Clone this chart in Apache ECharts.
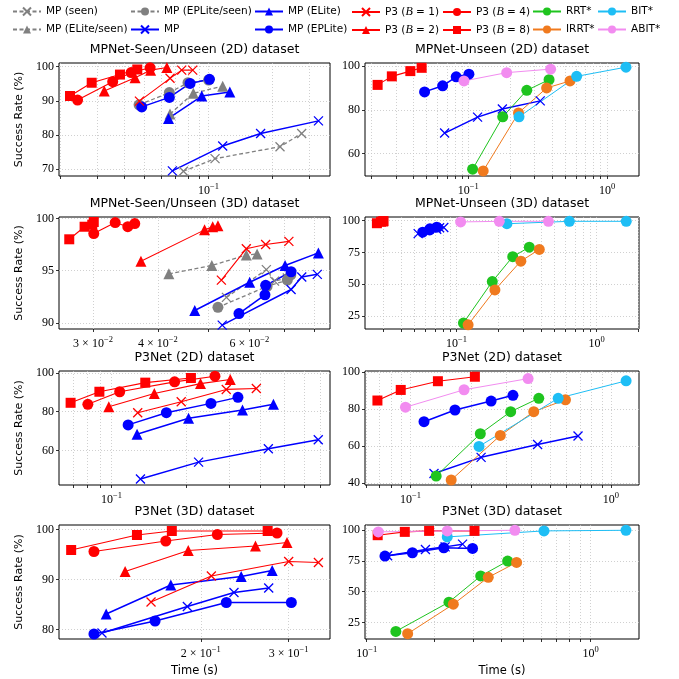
<!DOCTYPE html>
<html><head><meta charset="utf-8">
<script src="https://cdn.jsdelivr.net/npm/echarts@6/dist/echarts.min.js"></script>
<style>html,body{margin:0;padding:0;background:#fff}#c{width:679px;height:679px}</style>
</head><body><div id="c"></div>
<script>
// ---------- DATA (time in s, success rate in %) ----------
// Panel A: MPNet-Seen/Unseen (2D)
const A_mpSeen_t=[0.0761,0.1073,0.2173,0.275], A_mpSeen_r=[69.3,73.0,76.5,80.4];
const A_eliteSeen_t=[0.0658,0.0848,0.1166], A_eliteSeen_r=[86.1,92.2,94.3];
const A_epliteSeen_t=[0.047,0.0653,0.080,0.100], A_epliteSeen_r=[88.8,92.4,95.3,96.1];
const A_mp_t=[0.0675,0.1166,0.176,0.330], A_mp_r=[69.4,76.7,80.4,84.1];
const A_elite_t=[0.0647,0.0929,0.126], A_elite_r=[84.8,91.4,92.6];
const A_eplite_t=[0.0484,0.0653,0.0818,0.101], A_eplite_r=[88.2,91.0,95.1,96.3];
const A_p1_t=[0.0472,0.0658,0.0747,0.0842], A_p1_r=[89.9,96.6,99.0,99.0];
const A_p2_t=[0.0322,0.0450,0.0533,0.0636], A_p2_r=[92.9,96.8,99.0,99.8];
const A_p4_t=[0.0241,0.0353,0.0431,0.0530], A_p4_r=[90.2,95.6,98.3,99.7];
const A_p8_t=[0.0222,0.0281,0.0382,0.0461], A_p8_r=[91.4,95.3,97.7,99.2];
// Panel B: MPNet-Unseen (2D)
const B_rrt_t=[0.1074,0.177,0.264,0.382], B_rrt_r=[52.9,76.8,88.9,93.8];
const B_irrt_t=[0.128,0.23,0.367,0.541], B_irrt_r=[52.1,78.6,90.0,93.2];
const B_bit_t=[0.232,0.604,1.37], B_bit_r=[76.8,95.3,99.5];
const B_abit_t=[0.093,0.189,0.392], B_abit_r=[93.2,97.0,98.6];
// Panel C: MPNet-Seen/Unseen (3D)
const C_mpSeen_t=[0.0542,0.0647,0.0671,0.0710], C_mpSeen_r=[92.45,95.1,94.0,94.3];
const C_eliteSeen_t=[0.0420,0.0508,0.0592,0.0621], C_eliteSeen_r=[94.7,95.5,96.5,96.6];
const C_epliteSeen_t=[0.0522,0.0649,0.0710,0.0721], C_epliteSeen_r=[91.5,93.5,94.1,94.6];
const C_mp_t=[0.0532,0.0722,0.0757,0.0811], C_mp_r=[89.8,93.2,94.4,94.65];
const C_elite_t=[0.0471,0.0601,0.0703,0.0815], C_elite_r=[91.2,93.9,95.5,96.7];
const C_eplite_t=[0.0573,0.0643,0.0645,0.0722], C_eplite_r=[90.9,92.7,93.6,94.9];
const C_p1_t=[0.0530,0.0592,0.0645,0.0715], C_p1_r=[94.1,97.1,97.5,97.8];
const C_p2_t=[0.0371,0.0492,0.0510,0.0522], C_p2_r=[95.9,98.9,99.2,99.3];
const C_p4_t=[0.0301,0.0331,0.0350,0.0361], C_p4_r=[98.55,99.6,99.2,99.5];
const C_p8_t=[0.0270,0.0289,0.0299,0.0301], C_p8_r=[98.0,99.2,99.4,99.65];
// Panel D: MPNet-Unseen (3D)
const D_rrt_t=[0.112,0.180,0.252,0.331], D_rrt_r=[19.3,52.0,71.6,79.1];
const D_irrt_t=[0.121,0.188,0.288,0.390], D_irrt_r=[17.9,45.4,68.1,77.3];
const D_bit_t=[0.229,0.640,1.63], D_bit_r=[97.6,99.5,99.5];
const D_abit_t=[0.107,0.202,0.453], D_abit_r=[99.0,99.5,99.5];
// Panel E: P3Net (2D)
const E_mp_t=[0.131,0.225,0.4305,0.685], E_mp_r=[45.3,54.0,60.9,65.5];
const E_elite_t=[0.1269,0.205,0.3385,0.4515], E_elite_r=[68.4,76.6,80.9,83.8];
const E_eplite_t=[0.1168,0.1667,0.2524,0.3245], E_eplite_r=[73.2,79.5,84.3,87.4];
const E_p1_t=[0.1277,0.1914,0.291,0.385], E_p1_r=[79.5,85.1,91.5,92.0];
const E_p2_t=[0.0976,0.149,0.229,0.302], E_p2_r=[82.6,89.4,94.5,96.6];
const E_p4_t=[0.0803,0.108,0.18,0.262], E_p4_r=[83.8,90.3,95.4,98.3];
const E_p8_t=[0.0684,0.0894,0.137,0.2095], E_p8_r=[84.6,90.3,95.0,97.4];
// Panel F: P3Net (2D) planners
const F_rrt_t=[0.1343,0.223,0.316,0.4365], F_rrt_r=[43.9,66.7,78.6,85.8];
const F_irrt_t=[0.1596,0.2806,0.412,0.593], F_irrt_r=[41.8,65.8,78.6,85.0];
const F_bit_t=[0.2197,0.5454,1.19], F_bit_r=[59.9,85.8,95.2];
const F_abit_t=[0.0944,0.185,0.386], F_abit_r=[81.0,90.4,96.4];
// Panel G: P3Net (3D)
const G_mp_t=[0.1268,0.188,0.2331,0.2736], G_mp_r=[79.3,84.6,87.4,88.3];
const G_elite_t=[0.1293,0.1742,0.241,0.278], G_elite_r=[83.1,88.9,90.6,91.8];
const G_eplite_t=[0.1222,0.162,0.225,0.3037], G_eplite_r=[79.1,81.7,85.4,85.4];
const G_p1_t=[0.159,0.21,0.30,0.3441], G_p1_r=[85.5,90.7,93.6,93.4];
const G_p2_t=[0.1411,0.1888,0.2574,0.2977], G_p2_r=[91.6,95.8,96.7,97.4];
const G_p4_t=[0.1222,0.1702,0.2159,0.2843], G_p4_r=[95.6,97.7,99.0,99.3];
const G_p8_t=[0.110,0.149,0.175,0.2723], G_p8_r=[95.9,98.9,99.7,99.7];
// Panel H: P3Net (3D) planners
const H_mp_t=[0.124,0.183,0.224,0.268], H_mp_r=[79.2,84.4,86.5,88.7];
const H_eplite_t=[0.1207,0.160,0.221,0.297], H_eplite_r=[79.0,81.7,85.7,85.2];
const H_p8_t=[0.112,0.148,0.190,0.303], H_p8_r=[96.0,98.7,99.5,99.5];
const H_rrt_t=[0.135,0.233,0.323,0.426], H_rrt_r=[17.7,41.5,62.8,74.9];
const H_irrt_t=[0.1524,0.2437,0.349,0.467], H_irrt_r=[15.8,39.8,61.7,73.8];
const H_bit_t=[0.229,0.619,1.438], H_bit_r=[94.6,99.5,100];
const H_abit_t=[0.1127,0.229,0.459], H_abit_r=[98.7,99.5,100];

// ---------- TICKS ----------
const A_xTicks=[0.02,0.03,0.04,0.05,0.06,0.07,0.08,0.09,0.1,0.2,0.3], A_xLabels=[0.1], A_yTicks=[70,80,90,100];
const B_xTicks=[0.02,0.03,0.04,0.05,0.06,0.07,0.08,0.09,0.1,0.2,0.3,0.4,0.5,0.6,0.7,0.8,0.9,1], B_xLabels=[0.1,1], B_yTicks=[60,80,100];
const C_xTicks=[0.03,0.04,0.05,0.06,0.07,0.08], C_xLabels=[0.03,0.04,0.06], C_yTicks=[90,95,100];
const D_xTicks=[0.03,0.04,0.05,0.06,0.07,0.08,0.09,0.1,0.2,0.3,0.4,0.5,0.6,0.7,0.8,0.9,1,2], D_xLabels=[0.1,1], D_yTicks=[25,50,75,100];
const E_xTicks=[0.07,0.08,0.09,0.1,0.2,0.3,0.4,0.5,0.6,0.7], E_xLabels=[0.1], E_yTicks=[60,80,100];
const F_xTicks=[0.06,0.07,0.08,0.09,0.1,0.2,0.3,0.4,0.5,0.6,0.7,0.8,0.9,1], F_xLabels=[0.1,1], F_yTicks=[40,60,80,100];
const G_xTicks=[0.2,0.3], G_xLabels=[0.2,0.3], G_yTicks=[80,90,100];
const H_xTicks=[0.1,0.2,0.3,0.4,0.5,0.6,0.7,0.8,0.9,1], H_xLabels=[0.1,1], H_yTicks=[25,50,75,100];

const N = {mpSeen:'MP (seen)', eliteSeen:'MP (ELite/seen)', epliteSeen:'MP (EPLite/seen)', mp:'MP', elite:'MP (ELite)', eplite:'MP (EPLite)',
  p1:'P3 (B = 1)', p2:'P3 (B = 2)', p4:'P3 (B = 4)', p8:'P3 (B = 8)', rrt:'RRT*', irrt:'IRRT*', bit:'BIT*', abit:'ABIT*'};

const panels = [
 {title:'MPNet-Seen/Unseen (2D) dataset', col:0,row:0, x:[0.0197,0.374], y:[67.9,101.1], xt:A_xTicks, xl:A_xLabels, yt:A_yTicks,
  s:[['mpSeen',A_mpSeen_t,A_mpSeen_r],['eliteSeen',A_eliteSeen_t,A_eliteSeen_r],['epliteSeen',A_epliteSeen_t,A_epliteSeen_r],
     ['mp',A_mp_t,A_mp_r],['elite',A_elite_t,A_elite_r],['eplite',A_eplite_t,A_eplite_r],
     ['p1',A_p1_t,A_p1_r],['p2',A_p2_t,A_p2_r],['p4',A_p4_t,A_p4_r],['p8',A_p8_t,A_p8_r]]},
 {title:'MPNet-Unseen (2D) dataset', col:1,row:0, x:[0.018,1.70], y:[49.8,101.4], xt:B_xTicks, xl:B_xLabels, yt:B_yTicks,
  s:[['mp',A_mp_t,A_mp_r],['eplite',A_eplite_t,A_eplite_r],['p8',A_p8_t,A_p8_r],
     ['rrt',B_rrt_t,B_rrt_r],['irrt',B_irrt_t,B_irrt_r],['bit',B_bit_t,B_bit_r],['abit',B_abit_t,B_abit_r]]},
 {title:'MPNet-Seen/Unseen (3D) dataset', col:0,row:1, x:[0.0258,0.0858], y:[89.43,100.13], xt:C_xTicks, xl:C_xLabels, yt:C_yTicks,
  s:[['mpSeen',C_mpSeen_t,C_mpSeen_r],['eliteSeen',C_eliteSeen_t,C_eliteSeen_r],['epliteSeen',C_epliteSeen_t,C_epliteSeen_r],
     ['mp',C_mp_t,C_mp_r],['elite',C_elite_t,C_elite_r],['eplite',C_eplite_t,C_eplite_r],
     ['p1',C_p1_t,C_p1_r],['p2',C_p2_t,C_p2_r],['p4',C_p4_t,C_p4_r],['p8',C_p8_t,C_p8_r]]},
 {title:'MPNet-Unseen (3D) dataset', col:1,row:1, x:[0.0222,2.01], y:[14.6,102.9], xt:D_xTicks, xl:D_xLabels, yt:D_yTicks,
  s:[['mp',C_mp_t,C_mp_r],['eplite',C_eplite_t,C_eplite_r],['p8',C_p8_t,C_p8_r],
     ['rrt',D_rrt_t,D_rrt_r],['irrt',D_irrt_t,D_irrt_r],['bit',D_bit_t,D_bit_r],['abit',D_abit_t,D_abit_r]]},
 {title:'P3Net (2D) dataset', col:0,row:2, x:[0.0614,0.764], y:[42.2,101.0], xt:E_xTicks, xl:E_xLabels, yt:E_yTicks,
  s:[['mp',E_mp_t,E_mp_r],['elite',E_elite_t,E_elite_r],['eplite',E_eplite_t,E_eplite_r],
     ['p1',E_p1_t,E_p1_r],['p2',E_p2_t,E_p2_r],['p4',E_p4_t,E_p4_r],['p8',E_p8_t,E_p8_r]]},
 {title:'P3Net (2D) dataset', col:1,row:2, x:[0.0593,1.38], y:[39.1,100.5], xt:F_xTicks, xl:F_xLabels, yt:F_yTicks,
  s:[['mp',E_mp_t,E_mp_r],['eplite',E_eplite_t,E_eplite_r],['p8',E_p8_t,E_p8_r],
     ['rrt',F_rrt_t,F_rrt_r],['irrt',F_irrt_t,F_irrt_r],['bit',F_bit_t,F_bit_r],['abit',F_abit_t,F_abit_r]]},
 {title:'P3Net (3D) dataset', col:0,row:3, x:[0.104,0.363], y:[78.1,100.9], xt:G_xTicks, xl:G_xLabels, yt:G_yTicks, xname:'Time (s)',
  s:[['mp',G_mp_t,G_mp_r],['elite',G_elite_t,G_elite_r],['eplite',G_eplite_t,G_eplite_r],
     ['p1',G_p1_t,G_p1_r],['p2',G_p2_t,G_p2_r],['p4',G_p4_t,G_p4_r],['p8',G_p8_t,G_p8_r]]},
 {title:'P3Net (3D) dataset', col:1,row:3, x:[0.0983,1.644], y:[11.5,104.3], xt:H_xTicks, xl:H_xLabels, yt:H_yTicks, xname:'Time (s)',
  s:[['mp',H_mp_t,H_mp_r],['eplite',H_eplite_t,H_eplite_r],['p8',H_p8_t,H_p8_r],
     ['rrt',H_rrt_t,H_rrt_r],['irrt',H_irrt_t,H_irrt_r],['bit',H_bit_t,H_bit_r],['abit',H_abit_t,H_abit_r]]}
];

// ---------- STYLE ----------
const SANS='DejaVu Sans', SERIF='Liberation Serif';
const XPATH='path://M0,0L10,10M10,0L0,10';
const GREY='#808080', BLUE='#0000ff', RED='#ff0000';
const STY={
 mpSeen:{c:GREY,sym:'x',dash:true,w:1.3,size:9}, eliteSeen:{c:GREY,sym:'triangle',dash:true,w:1.3,size:11}, epliteSeen:{c:GREY,sym:'circle',dash:true,w:1.3,size:11},
 mp:{c:BLUE,sym:'x',w:1.5,size:9}, elite:{c:BLUE,sym:'triangle',w:1.5,size:11}, eplite:{c:BLUE,sym:'circle',w:1.5,size:11},
 p1:{c:RED,sym:'x',w:1.1,size:9}, p2:{c:RED,sym:'triangle',w:1.1,size:11}, p4:{c:RED,sym:'circle',w:1.1,size:11}, p8:{c:RED,sym:'rect',w:1.1,size:10},
 rrt:{c:'#1fc41f',sym:'circle',w:1,size:11}, irrt:{c:'#f07a1e',sym:'circle',w:1,size:11}, bit:{c:'#1ebef5',sym:'circle',w:1,size:11}, abit:{c:'#f28cf0',sym:'circle',w:1,size:11}
};
const COLX=[59,365], COLW=[271,274], ROWY=[63,217,371,525], ROWH=[113,112,114,114];

function sci(v){
  const e=Math.floor(Math.log10(v)+1e-9);
  const m=Math.round(v/Math.pow(10,e));
  const ex=e<0?'\u2212'+(-e):''+e;
  return (m===1?'{b|10}':'{b|'+m+' \u00d7 10}')+'{s|'+ex+'}';
}
const RICH={b:{fontFamily:SERIF,fontSize:12,color:'#000'},s:{fontFamily:SERIF,fontSize:8.5,color:'#000',padding:[0,0,8,0]}};

const grid=[],xAxis=[],yAxis=[],series=[],graphic=[];
panels.forEach((p,i)=>{
  grid.push({left:COLX[p.col],top:ROWY[p.row],width:COLW[p.col],height:ROWH[p.row],show:true,borderColor:'#000',borderWidth:1,containLabel:false});
  xAxis.push({type:'log',logBase:10,gridIndex:i,min:p.x[0],max:p.x[1],
    axisLine:{show:false},
    axisTick:{show:true,customValues:p.xt,length:3,lineStyle:{color:'#000',width:0.8}},
    axisLabel:{customValues:p.xl,formatter:sci,rich:RICH,margin:6,color:'#000'},
    splitLine:{show:true,lineStyle:{type:[1,2],color:'#c4c4c4',width:0.8}},
    name:p.xname||'',nameLocation:'middle',nameGap:26,nameTextStyle:{fontFamily:SANS,fontSize:11.5,color:'#000'}});
  yAxis.push({type:'value',gridIndex:i,min:p.y[0],max:p.y[1],
    axisLine:{show:false},
    axisTick:{show:true,customValues:p.yt,length:3,lineStyle:{color:'#000',width:0.8}},
    axisLabel:{customValues:p.yt,fontFamily:SERIF,fontSize:12,color:'#000',margin:5},
    splitLine:{show:true,lineStyle:{type:[1,2],color:'#c4c4c4',width:0.8}},
    name:p.col===0?'Success Rate (%)':'',nameLocation:'middle',nameGap:34,nameTextStyle:{fontFamily:SANS,fontSize:11,color:'#000'}});
  graphic.push({type:'text',x:COLX[p.col]+COLW[p.col]/2,y:ROWY[p.row]-13,style:{text:p.title,textAlign:'center',textVerticalAlign:'middle',fontFamily:SANS,fontSize:12.5,fill:'#000'}});
  p.s.forEach(([k,t,r])=>{
    const st=STY[k], isX=st.sym==='x';
    series.push({type:'line',name:N[k],xAxisIndex:i,yAxisIndex:i,
      data:t.map((v,j)=>[v,r[j]]),
      symbol:isX?XPATH:st.sym,symbolSize:st.size,showSymbol:true,showAllSymbol:true,
      lineStyle:{color:st.c,width:st.w,type:st.dash?[4,2.5]:'solid'},
      itemStyle:isX?{color:st.c,borderColor:st.c,borderWidth:1.3}:{color:st.c,borderWidth:0},
      emphasis:{disabled:true},animation:false,silent:true,clip:true});
  });
});

// legend: matplotlib 7 columns x 2 rows, column-major order
const LEG_ORDER=['mpSeen','eliteSeen','epliteSeen','mp','elite','eplite','p1','p2','p4','p8','rrt','irrt','bit','abit'];
const LEG_X=[12,130,254,351,442,532,597], LEG_Y=[6,24];
function legFmt(name){
  const m=name.match(/^P3 \(B = (\d)\)$/);
  if(m) return '{n|P3 (}{i|B}{n| = '+m[1]+')}';
  return '{n|'+name+'}';
}
const legend=LEG_ORDER.map((k,idx)=>({
  data:[N[k]],left:LEG_X[Math.floor(idx/2)],top:LEG_Y[idx%2],itemWidth:28,itemHeight:10,padding:0,
  selectedMode:false,formatter:legFmt,
  textStyle:{rich:{n:{fontFamily:SANS,fontSize:10.5,color:'#000'},i:{fontFamily:SERIF,fontStyle:'italic',fontSize:12,color:'#000'}}}
}));

const chart=echarts.init(document.getElementById('c'),null,{renderer:'canvas'});
chart.setOption({backgroundColor:'#fff',animation:false,grid,xAxis,yAxis,series,legend,graphic});
</script></body></html>
